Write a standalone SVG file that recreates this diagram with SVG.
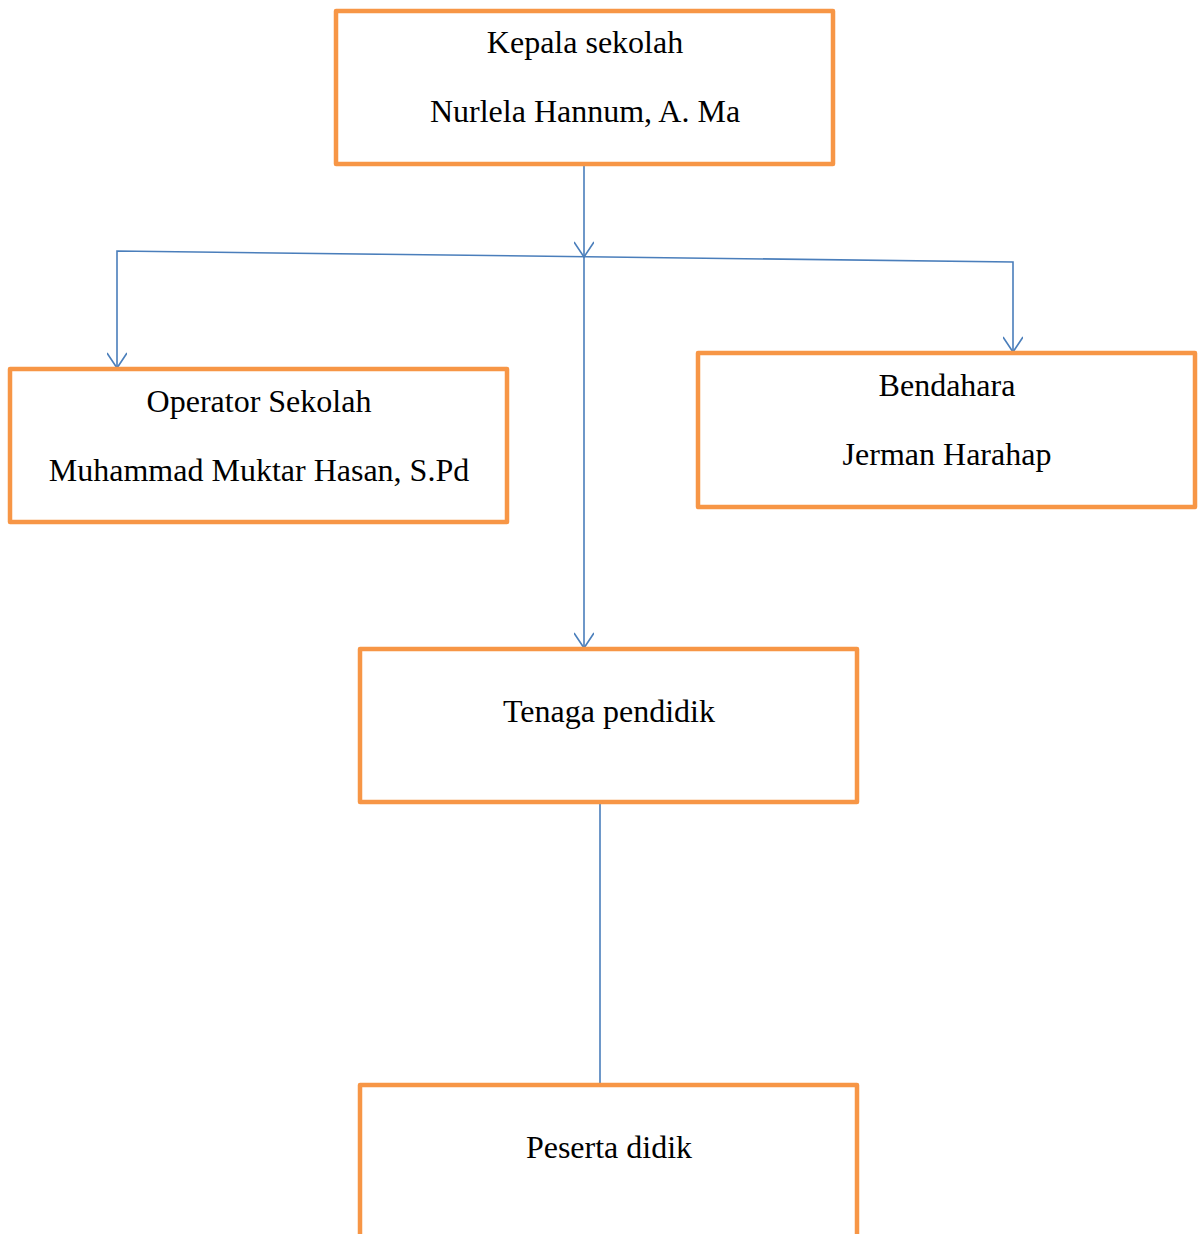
<svg xmlns="http://www.w3.org/2000/svg" width="1203" height="1234" viewBox="0 0 1203 1234">
<style>
.box{fill:#fff;stroke:#F79646;stroke-width:4.5;stroke-linejoin:round}
.t{font-family:"Liberation Serif","Times New Roman",serif;font-size:32px;fill:#000;text-anchor:middle}
.c{fill:none;stroke:#4A7EBB;stroke-width:1.6}
</style>
<defs>
<marker id="ah" viewBox="0 0 20 20" refX="16" refY="10" markerWidth="20" markerHeight="20" markerUnits="userSpaceOnUse" orient="auto-start-reverse">
<path d="M1,0 L16,10 L1,20" fill="none" stroke="#4A7EBB" stroke-width="1.6"/>
</marker>
</defs>
<rect width="1203" height="1234" fill="#fff"/>
<g id="connectors">
<path class="c" d="M584,164 V257" marker-end="url(#ah)"/>
<path class="c" d="M584,257 V648" marker-end="url(#ah)"/>
<path class="c" d="M117,368 V251 L1013,262 V352" marker-start="url(#ah)" marker-end="url(#ah)"/>
<path class="c" d="M600,802 V1084"/>
</g>
<g id="kepala">
<rect class="box" x="336" y="11" width="497" height="153"/>
<text class="t" x="585" y="53">Kepala sekolah</text>
<text class="t" x="585" y="122">Nurlela Hannum, A. Ma</text>
</g>
<g id="operator">
<rect class="box" x="10" y="369" width="497" height="153"/>
<text class="t" x="259" y="412">Operator Sekolah</text>
<text class="t" x="259" y="481">Muhammad Muktar Hasan, S.Pd</text>
</g>
<g id="bendahara">
<rect class="box" x="698" y="353" width="497" height="154"/>
<text class="t" x="947" y="396">Bendahara</text>
<text class="t" x="947" y="465">Jerman Harahap</text>
</g>
<g id="tenaga">
<rect class="box" x="360" y="649" width="497" height="153"/>
<text class="t" x="609" y="722">Tenaga pendidik</text>
</g>
<g id="peserta">
<rect class="box" x="360" y="1085" width="497" height="200"/>
<text class="t" x="609" y="1158">Peserta didik</text>
</g>
</svg>
